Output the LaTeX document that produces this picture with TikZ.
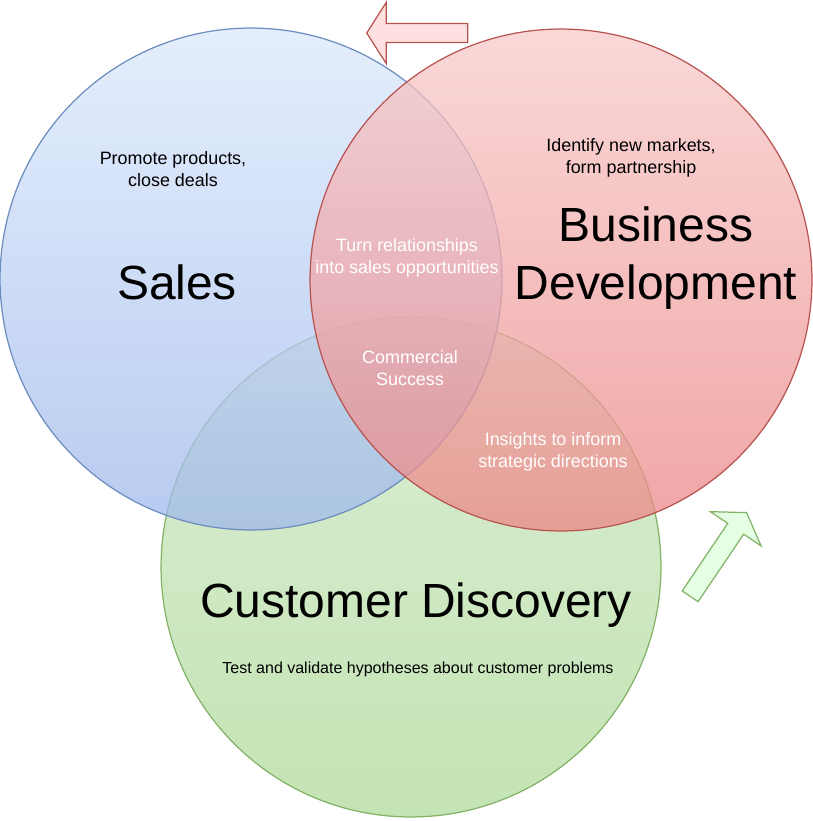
\documentclass[tikz,border=0pt]{standalone}
\usepackage{fontspec}
\setmainfont{Liberation Sans}
\usepackage{xcolor}
\usetikzlibrary{shapes.arrows}

\definecolor{salesTop}{RGB}{219,232,251}
\definecolor{salesBot}{RGB}{159,184,235}
\definecolor{salesLine}{HTML}{6C8EBF}
\definecolor{bizTop}{RGB}{248,202,202}
\definecolor{bizBot}{RGB}{235,135,135}
\definecolor{bizLine}{HTML}{B85450}
\definecolor{custTop}{RGB}{208,231,198}
\definecolor{custBot}{RGB}{175,219,155}
\definecolor{custLine}{HTML}{82B366}

\begin{document}
\begin{tikzpicture}[x=0.02cm, y=-0.02cm,
  set/.style={circle, inner sep=0pt, line width=0.7pt, fill opacity=0.75},
  title/.style={font=\fontsize{27.3}{32.8}\selectfont, align=center},
  note/.style={font=\fontsize{10.2}{12.5}\selectfont, align=center},
  overlap/.style={note, text=white},
  turn/.style={single arrow, anchor=tip, minimum height=2.02cm, inner sep=0.18cm,
    single arrow tip angle=115, single arrow head extend=0.42cm, line width=0.7pt}]
\useasboundingbox (0,0) rectangle (812,821);

% the three sets
\node[set, minimum size=10.0cm, draw=custLine, top color=custTop, bottom color=custBot] (cust) at (411,567) {};
\node[set, minimum size=10.04cm, draw=salesLine, top color=salesTop, bottom color=salesBot] (sales) at (251,279) {};
\node[set, minimum size=10.04cm, draw=bizLine, top color=bizTop, bottom color=bizBot] (biz) at (561,280) {};

% labels
\node[title] (salesT) at (177,282) {Sales};
\node[note] (salesN) at (173,169) {Promote products,\\close deals};
\node[title] (bizT) at (656,258) {Business\\Development};
\node[note] (bizN) at (631,158) {Identify new markets,\\form partnership};
\node[title] (custT) at (416,605) {Customer Discovery};
\node[note, font=\fontsize{9.1}{11}\selectfont] (custN) at (418,669) {Test and validate hypotheses about customer problems};

\node[overlap] (salesBiz) at (407,258) {Turn relationships\\into sales opportunities};
\node[overlap] (core) at (410,368) {Commercial\\Success};
\node[overlap] (bizCust) at (553,452) {Insights to inform\\strategic directions};

% cycle arrows
\node[turn, draw=bizLine, fill=red!12, rotate=180] (toSales) at (366,33) {};
\node[turn, draw=custLine, fill=green!10, rotate=56] (toBiz) at (747,512) {};
\end{tikzpicture}
\end{document}
